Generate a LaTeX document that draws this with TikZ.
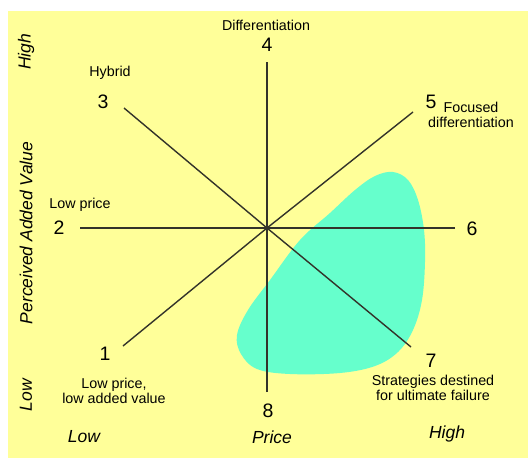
\documentclass[tikz,border=0pt]{standalone}
\usepackage{fontspec}
\setmainfont{Liberation Sans}
\begin{document}
\definecolor{paper}{HTML}{FFFF99}
\definecolor{zone}{HTML}{66FFCC}
\definecolor{axisline}{HTML}{33332A}
\tikzset{
  axis/.style={draw=axisline, line width=1.4pt},
  num/.style={font=\fontsize{19.5}{19.5}\selectfont, inner sep=0pt},
  lbl/.style={font=\fontsize{14.3}{15}\selectfont, align=center, inner sep=0pt},
  scalelbl/.style={font=\fontsize{17.5}{18}\selectfont\itshape, inner sep=0pt}
}
\begin{tikzpicture}[x=1pt, y=-1pt]
  \useasboundingbox (0,0) rectangle (528,458);
  % background panel
  \fill[paper] (8,11) rectangle (528,458);

  % zone of failing strategies
  \fill[zone] plot[smooth cycle, tension=0.6] coordinates {
    (393,172) (408,180) (418,200) (424,230) (425,262) (422,300) (413,330)
    (398,352) (375,366) (340,373) (290,374) (257,369) (241,354) (237,335)
    (248,310) (270,280) (300,240) (330,213) (355,190) (375,176)};

  % ends of the eight strategy routes
  \coordinate (c) at (267,228);
  \coordinate (e1) at (123,346);
  \coordinate (e2) at (80,228);
  \coordinate (e3) at (124,108);
  \coordinate (e4) at (267,62);
  \coordinate (e5) at (413,112);
  \coordinate (e6) at (455,228);
  \coordinate (e7) at (411,347);
  \coordinate (e8) at (267,392);

  \draw[axis] (e1) -- (c);
  \draw[axis] (e2) -- (c);
  \draw[axis] (e3) -- (c);
  \draw[axis] (e4) -- (c);
  \draw[axis] (e5) -- (c);
  \draw[axis] (e6) -- (c);
  \draw[axis] (e7) -- (c);
  \draw[axis] (e8) -- (c);

  % route numbers
  \node[num] (n1) at (105,354) {1};
  \node[num] (n2) at (59,228) {2};
  \node[num] (n3) at (103,102) {3};
  \node[num] (n4) at (267,45) {4};
  \node[num] (n5) at (431,102) {5};
  \node[num] (n6) at (472,229) {6};
  \node[num] (n7) at (431,361) {7};
  \node[num] (n8) at (268,411) {8};

  % route names
  \node[lbl] (l1) at (114,391) {Low price,\\low added value};
  \node[lbl] (l2) at (80,205) {Low price};
  \node[lbl] (l3) at (110,73) {Hybrid};
  \node[lbl] (l4) at (266,25) {Differentiation};
  \node[lbl] (l5) at (471,115) {Focused\\differentiation};
  \node[lbl] (l7) at (433,388) {Strategies destined\\for ultimate failure};

  % axis scales
  \node[scalelbl] (px) at (272,437) {Price};
  \node[scalelbl] (plo) at (84,437) {Low};
  \node[scalelbl] (phi) at (447,434) {High};
  \node[scalelbl, rotate=90] (vy) at (26,233) {Perceived Added Value};
  \node[scalelbl, rotate=90] (vhi) at (26,52) {High};
  \node[scalelbl, rotate=90] (vlo) at (26,395) {Low};
\end{tikzpicture}
\end{document}
